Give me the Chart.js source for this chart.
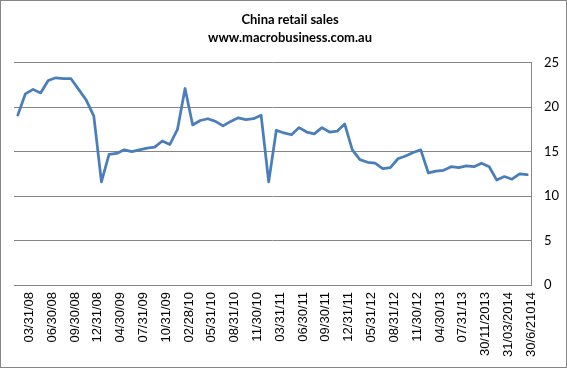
<!DOCTYPE html>
<html>
<head>
<meta charset="utf-8">
<script src="https://cdn.jsdelivr.net/npm/chart.js@4.4.1/dist/chart.umd.min.js"></script>
<style>
  html, body { margin: 0; padding: 0; background: #fff; }
  #wrap { width: 567px; height: 368px; box-sizing: border-box; border: 1px solid #868686; position: relative; }
  canvas { display: block; }
</style>
</head>
<body>
<div id="wrap"><canvas id="c" width="565" height="366"></canvas></div>
<script>
// Tick labels shown on the category axis (every third category, starting at the second)
const tickLabels = [
  '03/31/08','06/30/08','09/30/08','12/31/08','04/30/09','07/31/09','10/31/09',
  '02/28/10','05/31/10','08/31/10','11/30/10','03/31/11','06/30/11','09/30/11',
  '12/31/11','05/31/12','08/31/12','11/30/12','04/30/13','07/31/13',
  '30/11/2013','31/03/2014','30/6/21014'
];
// Retail sales growth, % y/y (one value per category)
const salesValues = [
  19.1, 21.5, 22.0, 21.6, 23.0, 23.3, 23.2, 23.2, 22.0, 20.8,
  19.0, 11.6, 14.7, 14.8, 15.2, 15.0, 15.2, 15.4, 15.5, 16.2,
  15.8, 17.5, 22.1, 18.0, 18.5, 18.7, 18.4, 17.9, 18.4, 18.8,
  18.6, 18.7, 19.1, 11.6, 17.4, 17.1, 16.9, 17.7, 17.2, 17.0,
  17.7, 17.2, 17.3, 18.1, 15.2, 14.1, 13.8, 13.7, 13.1, 13.2,
  14.2, 14.5, 14.9, 15.2, 12.6, 12.8, 12.9, 13.3, 13.2, 13.4,
  13.3, 13.7, 13.3, 11.8, 12.2, 11.9, 12.5, 12.4
];
const titleLines = ['China retail sales', 'www.macrobusiness.com.au'];

// Category list: a labelled category every 3rd, starting at index 1
const categories = salesValues.map((v, i) => ((i - 1) % 3 === 0 && i >= 1) ? tickLabels[(i - 1) / 3] : '');

const gridCol = '#868686';

new Chart(document.getElementById('c'), {
  type: 'line',
  data: {
    labels: categories,
    datasets: [{
      data: salesValues,
      borderColor: '#4a7ebb',
      backgroundColor: '#4a7ebb',
      borderWidth: 2.75,
      pointRadius: 0,
      tension: 0,
      borderJoinStyle: 'round',
      borderCapStyle: 'round',
      fill: false
    }]
  },
  options: {
    responsive: false,
    animation: false,
    devicePixelRatio: 1,
    layout: { padding: { left: 13, right: 0, top: 0, bottom: 0 } },
    plugins: {
      legend: { display: false },
      tooltip: { enabled: false },
      title: {
        display: true,
        text: titleLines,
        color: '#000',
        font: { family: 'Lato', size: 13, weight: 'bold', lineHeight: 1.45 },
        padding: { top: 9, bottom: 15 }
      }
    },
    scales: {
      x: {
        type: 'category',
        offset: true,
        grid: { display: false, drawTicks: false },
        border: { display: true, color: gridCol, width: 1 },
        ticks: {
          autoSkip: false,
          minRotation: 90,
          maxRotation: 90,
          padding: 7,
          labelOffset: 4,
          color: '#000',
          font: { family: 'Liberation Sans', size: 13 }
        },
        afterFit: (s) => { s.height = 82; }
      },
      y: {
        position: 'right',
        min: 0,
        max: 25,
        grid: { color: gridCol, lineWidth: 1, drawTicks: false },
        border: { display: true, color: gridCol, width: 1 },
        ticks: {
          stepSize: 5,
          padding: 13,
          color: '#000',
          font: { family: 'Lato', size: 13 }
        },
        afterFit: (s) => { s.width = 35; }
      }
    }
  }
});
</script>
</body>
</html>
